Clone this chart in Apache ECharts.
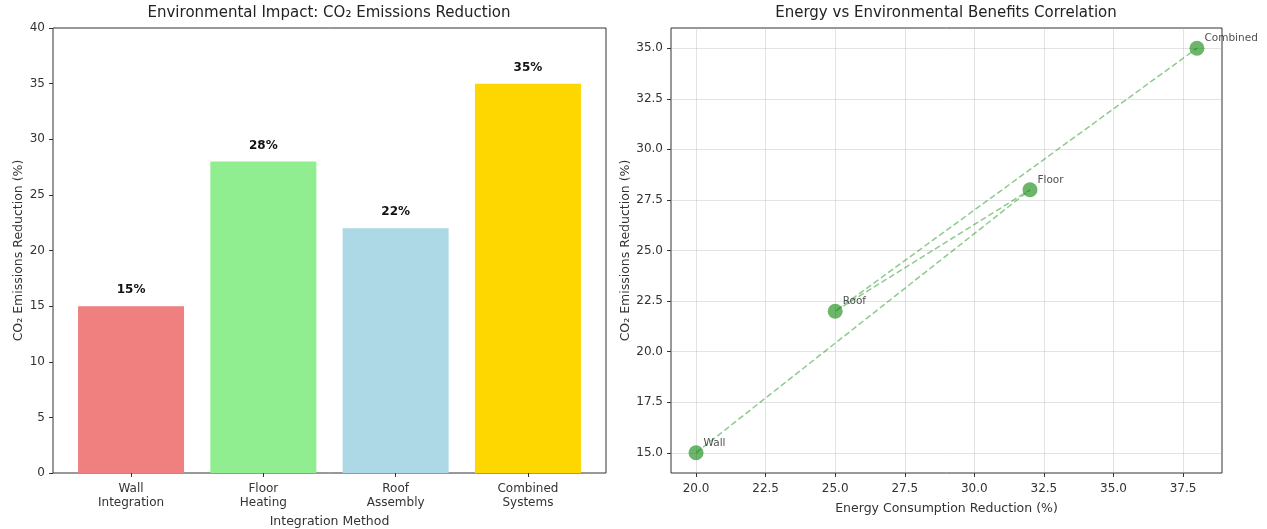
<!DOCTYPE html>
<html>
<head>
<meta charset="utf-8">
<script src="https://cdn.jsdelivr.net/npm/echarts@6/dist/echarts.min.js"></script>
<style>html,body{margin:0;padding:0;background:#fff}#c{width:1267px;height:529px}</style>
</head>
<body>
<div id="c"></div>
<script>
// ---- data ----
const methods = ['Wall\nIntegration', 'Floor\nHeating', 'Roof\nAssembly', 'Combined\nSystems'];
const co2Reduction = [15, 28, 22, 35];
const barColors = ['#F08080', '#90EE90', '#ADD8E6', '#FFD700'];
const barYTicks = [0, 5, 10, 15, 20, 25, 30, 35, 40];

const pointNames = ['Wall', 'Floor', 'Roof', 'Combined'];
const energyReduction = [20, 32, 25, 38];
const co2Points = [15, 28, 22, 35];
const scatterXTicks = [20.0, 22.5, 25.0, 27.5, 30.0, 32.5, 35.0, 37.5];
const scatterYTicks = [15.0, 17.5, 20.0, 22.5, 25.0, 27.5, 30.0, 32.5, 35.0];

// ---- chart ----
const FONT = 'DejaVu Sans';
const TXT = '#333';
const chart = echarts.init(document.getElementById('c'));

const barIdx = methods.map((_, i) => i);
const pts = energyReduction.map((e, i) => [e, co2Points[i]]);

const option = {
  animation: false,
  textStyle: { fontFamily: FONT },
  graphic: [
    { type: 'text', x: 329, y: 6, style: { text: 'Environmental Impact: CO₂ Emissions Reduction', textAlign: 'center', font: '15px "DejaVu Sans"', fill: '#222' } },
    { type: 'text', x: 946, y: 6, style: { text: 'Energy vs Environmental Benefits Correlation', textAlign: 'center', font: '15px "DejaVu Sans"', fill: '#222' } }
  ],
  grid: [
    { left: 53, top: 28, width: 553, height: 445, show: true, borderColor: '#333', borderWidth: 1, backgroundColor: 'transparent', containLabel: false, outerBoundsMode: 'none' },
    { left: 671, top: 28, width: 551, height: 445, show: true, borderColor: '#333', borderWidth: 1, backgroundColor: 'transparent', containLabel: false, outerBoundsMode: 'none' }
  ],
  xAxis: [
    {
      gridIndex: 0, type: 'value', min: -0.59, max: 3.59,
      axisLine: { show: false, onZero: false },
      axisTick: { show: true, length: 4, lineStyle: { color: TXT }, customValues: barIdx },
      axisLabel: { customValues: barIdx, formatter: v => methods[Math.round(v)], color: TXT, fontSize: 12, lineHeight: 14, margin: 9, fontFamily: FONT },
      splitLine: { show: false },
      name: 'Integration Method', nameLocation: 'middle', nameGap: 41,
      nameTextStyle: { color: TXT, fontSize: 12.5, fontFamily: FONT }
    },
    {
      gridIndex: 1, type: 'value', min: 19.1, max: 38.9,
      axisLine: { show: false, onZero: false },
      axisTick: { show: true, length: 4, lineStyle: { color: TXT }, customValues: scatterXTicks },
      axisLabel: { customValues: scatterXTicks, formatter: v => v.toFixed(1), color: TXT, fontSize: 12, margin: 10, fontFamily: FONT },
      splitLine: { show: true, lineStyle: { color: 'rgba(176,176,176,0.35)', width: 1 } },
      name: 'Energy Consumption Reduction (%)', nameLocation: 'middle', nameGap: 29,
      nameTextStyle: { color: TXT, fontSize: 12.5, fontFamily: FONT }
    }
  ],
  yAxis: [
    {
      gridIndex: 0, type: 'value', min: 0, max: 40, interval: 5,
      axisLine: { show: false, onZero: false },
      axisTick: { show: true, length: 4, lineStyle: { color: TXT } },
      axisLabel: { color: TXT, fontSize: 12, margin: 8, fontFamily: FONT },
      splitLine: { show: false },
      name: 'CO₂ Emissions Reduction (%)', nameLocation: 'middle', nameGap: 28, nameRotate: 90,
      nameTextStyle: { color: TXT, fontSize: 12.5, fontFamily: FONT }
    },
    {
      gridIndex: 1, type: 'value', min: 14, max: 36,
      axisLine: { show: false, onZero: false },
      axisTick: { show: true, length: 4, lineStyle: { color: TXT }, customValues: scatterYTicks },
      axisLabel: { customValues: scatterYTicks, formatter: v => v.toFixed(1), color: TXT, fontSize: 12, margin: 8, fontFamily: FONT },
      splitLine: { show: true, lineStyle: { color: 'rgba(176,176,176,0.35)', width: 1 } },
      name: 'CO₂ Emissions Reduction (%)', nameLocation: 'middle', nameGap: 39, nameRotate: 90,
      nameTextStyle: { color: TXT, fontSize: 12.5, fontFamily: FONT }
    }
  ],
  series: [
    {
      type: 'bar', xAxisIndex: 0, yAxisIndex: 0, barWidth: 106,
      data: co2Reduction.map((v, i) => ({ value: [i, v], itemStyle: { color: barColors[i] } })),
      label: { show: true, position: 'top', distance: 10, formatter: p => p.value[1] + '%', fontWeight: 'bold', fontSize: 12, color: '#111', fontFamily: FONT }
    },
    {
      type: 'line', xAxisIndex: 1, yAxisIndex: 1, data: pts, showSymbol: false, symbol: 'none',
      lineStyle: { color: 'rgba(0,140,0,0.45)', width: 1.5, type: [6, 3] }, z: 2
    },
    {
      type: 'scatter', xAxisIndex: 1, yAxisIndex: 1, data: pts, symbolSize: 15,
      itemStyle: { color: 'rgba(0,128,0,0.72)' }, z: 3,
      label: { show: true, position: 'right', distance: 0, offset: [0, -10], formatter: p => pointNames[p.dataIndex], color: '#222', fontSize: 10.5, fontFamily: FONT }
    }
  ]
};
chart.setOption(option);
</script>
</body>
</html>
